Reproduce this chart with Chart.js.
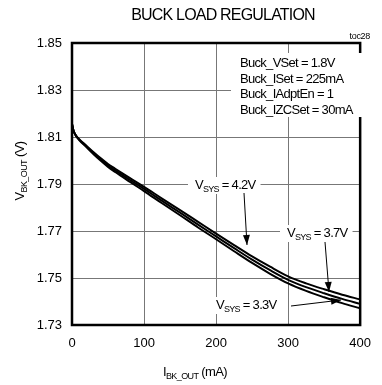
<!DOCTYPE html>
<html>
<head>
<meta charset="utf-8">
<script src="https://cdn.jsdelivr.net/npm/chart.js@4.4.0/dist/chart.umd.min.js"></script>
<style>
  html, body { margin: 0; padding: 0; background: #fff; }
  #wrap { width: 382px; height: 385px; }
</style>
</head>
<body>
<div id="wrap"><canvas id="myChart" width="382" height="385"></canvas></div>
<script>
// load current (mA)
const currentMA = [0, 2, 5, 10, 20, 30, 40, 50, 60, 80, 100, 125, 150, 175, 200, 225, 250, 275, 300, 325, 350, 375, 400];
// buck output voltage (V) for each VSYS
const vsys42 = [1.8155, 1.8128, 1.8108, 1.8091, 1.8063, 1.8035, 1.8009, 1.7985, 1.7965, 1.7926, 1.7888, 1.7838, 1.7789, 1.7739, 1.7689, 1.7640, 1.7592, 1.7548, 1.7507, 1.7477, 1.7452, 1.7429, 1.7409];
const vsys37 = [1.8155, 1.8128, 1.8108, 1.8089, 1.8060, 1.8031, 1.8004, 1.7979, 1.7958, 1.7918, 1.7879, 1.7828, 1.7778, 1.7727, 1.7677, 1.7627, 1.7578, 1.7533, 1.7492, 1.7461, 1.7435, 1.7411, 1.7390];
const vsys33 = [1.8155, 1.8128, 1.8108, 1.8087, 1.8057, 1.8027, 1.7999, 1.7973, 1.7951, 1.7910, 1.7870, 1.7818, 1.7767, 1.7715, 1.7665, 1.7614, 1.7564, 1.7518, 1.7477, 1.7445, 1.7418, 1.7393, 1.7371];
const seriesNames = ['VSYS = 4.2V', 'VSYS = 3.7V', 'VSYS = 3.3V'];
const xTicks = [0, 100, 200, 300, 400];
const yTicks = [1.73, 1.75, 1.77, 1.79, 1.81, 1.83, 1.85];
const condLines = ['Buck_VSet = 1.8V', 'Buck_ISet = 225mA', 'Buck_IAdptEn = 1', 'Buck_IZCSet = 30mA'];

const FONT = '"Liberation Sans", Arial, sans-serif';

function toPoints(vals) {
    return currentMA.map((x, i) => ({x: x, y: vals[i]}));
}

// text with subscript pieces: parts = [[text, size, dy]]
function drawParts(ctx, x, y, parts, spacing) {
    let cx = x;
    parts.forEach(p => {
        ctx.font = p[1] + 'px ' + FONT;
        ctx.letterSpacing = spacing + 'px';
        ctx.fillText(p[0], cx, y + p[2]);
        cx += ctx.measureText(p[0]).width;
    });
    return cx - x;
}
function partsWidth(ctx, parts, spacing) {
    let w = 0;
    parts.forEach(p => {
        ctx.font = p[1] + 'px ' + FONT;
        ctx.letterSpacing = spacing + 'px';
        w += ctx.measureText(p[0]).width;
    });
    return w;
}
function vsysParts(label) {
    return [['V', 13, 0], ['SYS', 9, 3], [' = ' + label.split('= ')[1], 13, 0]];
}
function arrow(ctx, x1, y1, x2, y2) {
    ctx.beginPath();
    ctx.moveTo(x1, y1);
    ctx.lineTo(x2, y2);
    ctx.lineWidth = 1;
    ctx.strokeStyle = '#000';
    ctx.stroke();
    const a = Math.atan2(y2 - y1, x2 - x1);
    const len = 10, half = 3.5;
    ctx.beginPath();
    ctx.moveTo(x2, y2);
    ctx.lineTo(x2 - len * Math.cos(a) + half * Math.sin(a), y2 - len * Math.sin(a) - half * Math.cos(a));
    ctx.lineTo(x2 - len * Math.cos(a) - half * Math.sin(a), y2 - len * Math.sin(a) + half * Math.cos(a));
    ctx.closePath();
    ctx.fillStyle = '#000';
    ctx.fill();
}

const decorations = {
    id: 'decorations',
    afterDatasetsDraw(chart) {
        const ctx = chart.ctx;
        const a = chart.chartArea;
        ctx.save();
        ctx.strokeStyle = '#000';
        ctx.lineWidth = 2.5;
        ctx.strokeRect(a.left, a.top, a.right - a.left, a.bottom - a.top);
        ctx.restore();
    },
    afterDraw(chart) {
        const ctx = chart.ctx;
        ctx.save();
        ctx.fillStyle = '#000';
        ctx.textBaseline = 'alphabetic';
        ctx.textAlign = 'left';

        // title
        ctx.font = '16px ' + FONT;
        ctx.letterSpacing = '-0.8px';
        ctx.textAlign = 'center';
        ctx.fillText('BUCK LOAD REGULATION', 223, 20);
        ctx.font = '9px ' + FONT;
        ctx.letterSpacing = '-0.3px';
        ctx.textAlign = 'right';
        ctx.fillText('toc28', 370, 39);
        ctx.textAlign = 'left';

        // conditions box
        ctx.fillStyle = '#fff';
        ctx.fillRect(231, 53, 136, 64);
        ctx.fillStyle = '#000';
        ctx.font = '13px ' + FONT;
        ctx.letterSpacing = '-0.7px';
        condLines.forEach((t, i) => ctx.fillText(t, 240, 67 + i * 15.5));

        // series labels
        const lab = [
            {parts: vsysParts(seriesNames[0]), x: 195, y: 189},
            {parts: vsysParts(seriesNames[1]), x: 287, y: 237},
            {parts: vsysParts(seriesNames[2]), x: 216, y: 309}
        ];
        lab.forEach(l => {
            const w = partsWidth(ctx, l.parts, -0.7);
            ctx.fillStyle = '#fff';
            ctx.fillRect(l.x - 7, l.y - 12, w + 12, 17);
            ctx.fillStyle = '#000';
            drawParts(ctx, l.x, l.y, l.parts, -0.7);
        });
        arrow(ctx, 244, 193, 247, 245);
        arrow(ctx, 325, 242, 329, 292);
        arrow(ctx, 291, 306, 341, 300);

        // axis titles
        const xt = [['I', 13, 0], ['BK_OUT', 9, 3], [' (mA)', 13, 0]];
        const xw = partsWidth(ctx, xt, -0.6);
        drawParts(ctx, 195 - xw / 2, 376, xt, -0.6);

        const yt = [['V', 13, 0], ['BK_OUT', 9, 3], [' (V)', 13, 0]];
        const yw = partsWidth(ctx, yt, -0.6);
        ctx.translate(24, 171);
        ctx.rotate(-Math.PI / 2);
        drawParts(ctx, -yw / 2, 0, yt, -0.6);
        ctx.restore();
    }
};

const ctx = document.querySelector('#myChart').getContext('2d');
const myChart = new Chart(ctx, {
    type: 'scatter',
    data: {
        datasets: [vsys42, vsys37, vsys33].map((v, i) => ({
            label: seriesNames[i],
            data: toPoints(v),
            showLine: true,
            borderColor: '#000',
            backgroundColor: '#000',
            borderWidth: 2,
            pointRadius: 0,
            cubicInterpolationMode: 'monotone'
        }))
    },
    options: {
        responsive: false,
        animation: false,
        layout: {padding: {top: 43, right: 12, left: 0, bottom: 0}},
        plugins: {
            legend: {display: false},
            tooltip: {enabled: false}
        },
        scales: {
            x: {
                type: 'linear',
                min: 0,
                max: 400,
                afterFit: s => { s.height = 60; },
                afterBuildTicks: s => { s.ticks = xTicks.map(v => ({value: v})); },
                grid: {color: '#777', lineWidth: 1, drawTicks: false},
                border: {display: false},
                ticks: {
                    padding: 11,
                    color: '#000',
                    font: {family: FONT, size: 13},
                    maxRotation: 0,
                    callback: v => v
                }
            },
            y: {
                type: 'linear',
                min: 1.73,
                max: 1.85,
                afterFit: s => { s.width = 72; },
                afterBuildTicks: s => { s.ticks = yTicks.map(v => ({value: v})); },
                grid: {color: '#777', lineWidth: 1, drawTicks: false},
                border: {display: false},
                ticks: {
                    padding: 10,
                    color: '#000',
                    font: {family: FONT, size: 13},
                    callback: v => v.toFixed(2)
                }
            }
        }
    },
    plugins: [decorations]
});
</script>
</body>
</html>
